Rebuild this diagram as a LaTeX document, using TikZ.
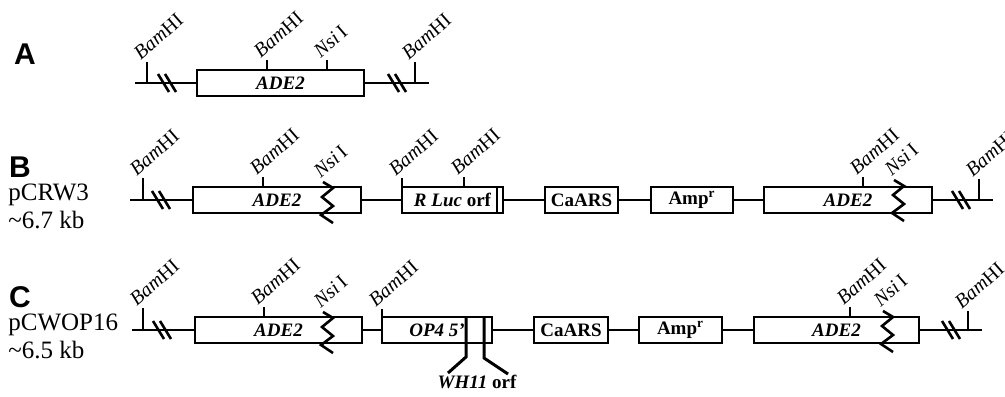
\documentclass[tikz,border=0pt]{standalone}
\usepackage{fontspec}
\setmainfont{Liberation Serif}
\newfontfamily\panelfont{Liberation Sans}
\usetikzlibrary{positioning}
\newcommand{\Bam}{\textit{Bam}HI}
\newcommand{\Nsi}{\textit{Nsi}\,I}
\newcommand{\site}[4]{%
  \draw[tick] (#1,#2) -- (#1,#3);
  \node[sitelab] at ({#1-6},{#3-1}) {#4};}
\newcommand{\brk}[2]{%
  \draw[slash] ({#1-9},{#2-9}) -- ({#1+2},{#2+9});
  \draw[slash] ({#1-2},{#2-9}) -- ({#1+9},{#2+9});}
\newcommand{\zig}[2]{%
  \draw[zz] ({#1-4},{#2-19}) -- ({#1+6},{#2-13}) -- ({#1-5},{#2-4})
    -- ({#1+6},{#2+5}) -- ({#1-6},{#2+14}) -- ({#1+6},{#2+22});
  \node[sitelab] at ({#1-6},{#2-22}) {\Nsi};}
\newcommand{\gbox}[5]{%
  \node[gene, minimum width={(#3-#2)*0.5pt}] (#1) at ({(#2+#3)/2},#4) {#5};}

\begin{document}
\begin{tikzpicture}[
    x=0.5pt, y=-0.5pt,
    dna/.style={draw=black, line width=1pt},
    tick/.style={draw=black, line width=0.9pt},
    slash/.style={draw=black, line width=1.3pt},
    zz/.style={draw=black, line width=1.3pt, line join=miter},
    fat/.style={draw=black, line width=1.5pt},
    gene/.style={rectangle, draw=black, line width=1pt, minimum height=13pt,
      inner sep=0pt, font=\fontsize{9.5}{10}\selectfont\bfseries},
    sitelab/.style={anchor=south west, rotate=41, inner sep=0pt,
      font=\fontsize{10}{11}\selectfont},
    panel/.style={font=\panelfont\bfseries\fontsize{15}{15}\selectfont},
    plas/.style={anchor=west, inner sep=0pt, font=\fontsize{12.5}{14}\selectfont},
  ]
  \useasboundingbox (0,0) rectangle (1005,396);

  % --- (A) the ADE2 fragment
  \node[panel] (labA) at (25,54) {A};
  \coordinate (aL) at (135,83);
  \coordinate (aR) at (429,83);
  \gbox{adeA}{197}{364}{83}{\textit{ADE2}}
  \draw[dna] (aL) -- (adeA.west) (adeA.east) -- (aR);
  \brk{167}{83}
  \brk{397}{83}
  \site{147}{83}{62}{\Bam}
  \site{415}{83}{62}{\Bam}
  \site{267}{70}{60}{\Bam}
  \site{327}{70}{60}{\Nsi}

  % --- (B) pCRW3
  \node[panel] (labB) at (20,167) {B};
  \node[plas] (nameB) at (8,195) {pCRW3};
  \node[plas] (sizeB) at (8,220) {\textasciitilde6.7 kb};
  \coordinate (bL) at (130,200);
  \coordinate (bR) at (993,200);
  \gbox{adeB}{193}{361}{200}{\textit{ADE2}}
  \gbox{rluc}{402}{503}{200}{\textit{R Luc} orf\hspace{4pt}}
  \gbox{carsB}{545}{618}{200}{CaARS}
  \gbox{ampB}{651}{733}{200}{Amp\textsuperscript{r}}
  \gbox{adeBb}{764}{932}{200}{\textit{ADE2}}
  \draw[dna] (bL) -- (adeB.west) (adeB.east) -- (rluc.west)
    (rluc.east) -- (carsB.west) (carsB.east) -- (ampB.west)
    (ampB.east) -- (adeBb.west) (adeBb.east) -- (bR);
  \draw[tick] ([xshift=-3.5pt]rluc.north east) -- ([xshift=-3.5pt]rluc.south east);
  \brk{161}{200}
  \brk{961}{200}
  \site{143}{200}{178}{\Bam}
  \site{979}{200}{179}{\Bam}
  \site{263}{187}{177}{\Bam}
  \site{402}{187}{178}{\Bam}
  \site{464}{187}{177}{\Bam}
  \site{863}{187}{177}{\Bam}
  \zig{327}{201}
  \zig{898}{199}

  % --- (C) pCWOP16
  \node[panel] (labC) at (20,297) {C};
  \node[plas] (nameC) at (8,325) {pCWOP16};
  \node[plas] (sizeC) at (8,350) {\textasciitilde6.5 kb};
  \coordinate (cL) at (132,330);
  \coordinate (cR) at (982,330);
  \gbox{adeC}{195}{362}{330}{\textit{ADE2}}
  \gbox{op4}{382}{492}{330}{\textit{OP4 5'}\hspace{24pt}}
  \gbox{carsC}{534}{608}{330}{CaARS}
  \gbox{ampC}{639}{722}{330}{Amp\textsuperscript{r}}
  \gbox{adeCb}{754}{919}{330}{\textit{ADE2}}
  \draw[dna] (cL) -- (adeC.west) (adeC.east) -- (op4.west)
    (op4.east) -- (carsC.west) (carsC.east) -- (ampC.west)
    (ampC.east) -- (adeCb.west) (adeCb.east) -- (cR);
  \node[font=\fontsize{9.5}{10}\selectfont\bfseries] (wh) at (477,382) {\textit{WH11} orf};
  \coordinate (whL) at (448,373);
  \coordinate (whR) at (508,374);
  \draw[fat] ([xshift=-13.5pt]op4.north east) -- ([xshift=-13.5pt]op4.south east)
    -- ++(0,13) -- (whL);
  \draw[fat] ([xshift=-4.5pt]op4.north east) -- ([xshift=-4.5pt]op4.south east)
    -- ++(0,14) -- (whR);
  \brk{162}{330}
  \brk{951}{330}
  \site{143}{330}{308}{\Bam}
  \site{968}{330}{311}{\Bam}
  \site{264}{317}{307}{\Bam}
  \site{382}{317}{309}{\Bam}
  \site{850}{317}{307}{\Bam}
  \zig{327}{331}
  \zig{887}{330}

\end{tikzpicture}
\end{document}
